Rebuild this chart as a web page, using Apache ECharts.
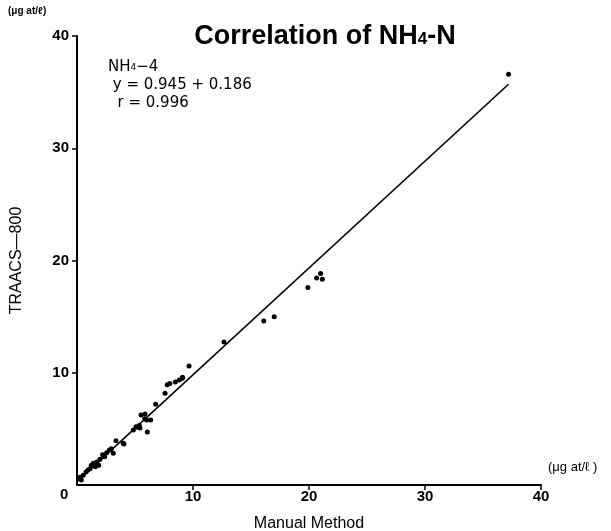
<!DOCTYPE html>
<html>
<head>
<meta charset="utf-8">
<script src="https://cdn.jsdelivr.net/npm/echarts@6/dist/echarts.min.js"></script>
<style>
  html, body {margin: 0; padding: 0; background: #fff;}
  #chart {width: 611px; height: 531px;}
</style>
</head>
<body>
<div id="chart"></div>
<script>
// measured points (Manual Method vs TRAACS-800)
const manualX = [0.26, 0.37, 0.54, 0.78, 0.95, 1.12, 1.23, 1.41, 1.58, 1.70, 1.87, 1.98, 2.21, 2.38, 2.56, 2.79, 2.96, 3.13,
  3.36, 3.99, 4.05, 4.86, 5.09, 5.20, 5.37, 5.43, 5.52, 5.84, 5.86, 6.00, 6.06, 6.35, 6.78, 7.59, 7.78, 8.00, 8.48, 8.82,
  9.08, 9.10, 9.66, 12.67, 16.10, 17.00, 19.90, 20.66, 21.00, 21.15, 37.20];
const traacsY = [0.69, 0.45, 0.86, 1.16, 1.34, 1.45, 1.75, 1.93, 1.63, 2.05, 1.75, 2.29, 2.70, 2.52, 2.88, 3.12, 3.23, 2.82,
  3.95, 3.71, 3.65, 4.90, 5.19, 5.14, 5.31, 5.08, 6.23, 5.90, 6.32, 5.79, 4.72, 5.79, 7.19, 8.17, 8.93, 9.05, 9.17, 9.35,
  9.50, 9.60, 10.60, 12.73, 14.60, 15.00, 17.60, 18.43, 18.85, 18.34, 36.60];
// regression line end points
const fitX = [0, 37.2];
const fitY = [0.3, 35.7];
const tickValues = [0, 10, 20, 30, 40];

const font = 'Liberation Sans, Arial, sans-serif';
const wide = 'DejaVu Sans, sans-serif';
const chart = echarts.init(document.getElementById('chart'));

const axisCommon = {
  min: tickValues[0],
  max: tickValues[tickValues.length - 1],
  interval: tickValues[1] - tickValues[0],
  splitLine: {show: false},
  axisLine: {show: true, lineStyle: {color: '#000', width: 2}},
  axisTick: {show: true, inside: false, length: 5, lineStyle: {color: '#000', width: 1.5}},
  axisLabel: {color: '#000', fontFamily: font, fontSize: 15, fontWeight: 'bold', showMinLabel: false}
};

chart.setOption({
  animation: false,
  backgroundColor: '#fff',
  title: {
    text: '{b|Correlation of NH}{s|4}{b|-N}',
    left: 320,
    textAlign: 'center',
    top: 16,
    textStyle: {
      rich: {
        b: {color: '#000', fontFamily: font, fontSize: 27, fontWeight: 'bold', lineHeight: 32},
        s: {color: '#000', fontFamily: font, fontSize: 17, fontWeight: 'bold', verticalAlign: 'bottom', padding: [0, 0, 5, 0]}
      }
    }
  },
  grid: {left: 77, right: 70, top: 36, bottom: 46, outerBoundsMode: 'none'},
  xAxis: Object.assign({}, axisCommon, {
    type: 'value',
    name: 'Manual Method',
    nameLocation: 'middle',
    nameGap: 31,
    nameTextStyle: {color: '#000', fontFamily: font, fontSize: 16},
    axisLabel: Object.assign({}, axisCommon.axisLabel, {margin: 4})
  }),
  yAxis: Object.assign({}, axisCommon, {
    type: 'value',
    name: 'TRAACS\u2014800',
    nameLocation: 'middle',
    nameGap: 52,
    nameTextStyle: {color: '#000', fontFamily: font, fontSize: 16}
  }),
  graphic: [
    {
      type: 'text', left: 8, top: 6,
      style: {text: '(\u03bcg at/\u2113)', fill: '#000', font: 'bold 10px ' + font}
    },
    {
      type: 'text', left: 60, top: 487,
      style: {text: '0', fill: '#000', font: 'bold 15px ' + font}
    },
    {
      type: 'text', left: 548, top: 461,
      style: {text: '(\u03bcg at/\u2113 )', fill: '#000', font: '13px ' + font}
    },
    {
      type: 'text', left: 108, top: 60,
      style: {
        text: '{a|NH}{s|4}{a|\u22124}\n{a| y = 0.945 + 0.186}\n{a|  r = 0.996}',
        fill: '#000',
        rich: {
          a: {fontFamily: wide, fontSize: 15, fill: '#000', lineHeight: 18},
          s: {fontFamily: wide, fontSize: 9, fill: '#000', verticalAlign: 'bottom', padding: [0, 0, 4, 0]}
        }
      }
    }
  ],
  series: [
    {
      type: 'scatter',
      data: manualX.map((x, i) => [x, traacsY[i]]),
      symbolSize: 5,
      itemStyle: {color: '#000', opacity: 1}
    },
    {
      type: 'line',
      data: fitX.map((x, i) => [x, fitY[i]]),
      showSymbol: false,
      lineStyle: {color: '#000', width: 1.6}
    }
  ]
});
</script>
</body>
</html>
